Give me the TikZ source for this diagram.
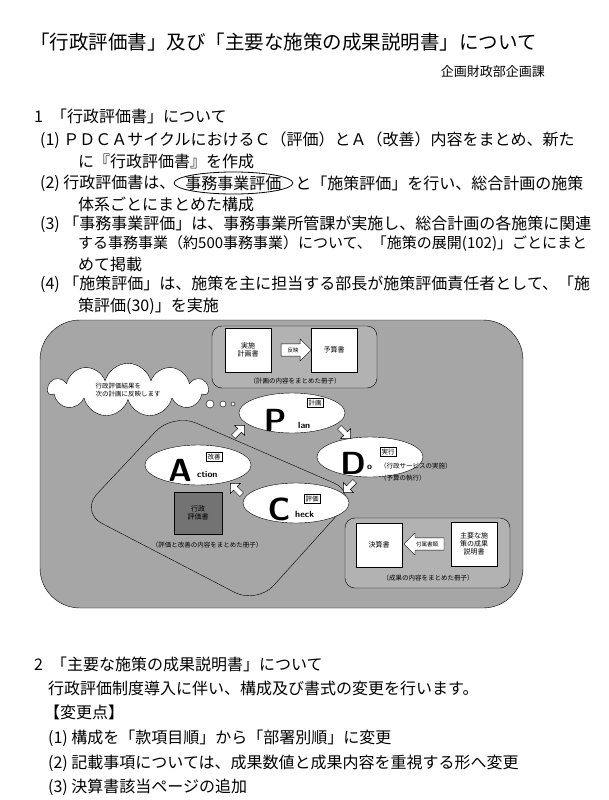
\documentclass[tikz,border=0pt]{standalone}
\usepackage{fontspec}
\setmainfont{Noto Sans CJK JP}
\usetikzlibrary{positioning, shapes.geometric, shapes.arrows, shapes.symbols}
\begin{document}
\begin{tikzpicture}[
        x=1pt, y=-1pt,
        line/.style={anchor=west, inner sep=0pt, font=\fontsize{16}{16}\selectfont},
        book/.style={draw, fill=white, minimum width=46pt, minimum height=44pt, align=center, font=\fontsize{7}{8}\selectfont},
        group/.style={draw, rounded corners=10pt, fill=black!30},
        pdca/.style={ellipse, draw, fill=white, minimum width=106pt, minimum height=40pt},
        tag/.style={draw, fill=white, inner sep=1.5pt, font=\fontsize{6.5}{7}\selectfont},
        note/.style={font=\fontsize{6.5}{7}\selectfont, inner sep=0pt},
        flow/.style={single arrow, draw, fill=white, minimum height=16pt, minimum width=14pt, single arrow head extend=2pt, inner sep=1pt},
        big/.style={font=\fontsize{32}{32}\selectfont\bfseries\sffamily, inner sep=0pt},
        small/.style={font=\fontsize{9}{9}\selectfont\bfseries\sffamily, inner sep=0pt, anchor=base west},
    ]
    \useasboundingbox (0,0) rectangle (609,800);
    \fill[white] (0,0) rectangle (609,800);

    % Title
    \node[anchor=west, inner sep=0pt, font=\fontsize{19.5}{19.5}\selectfont] (title) at (30,42) {「行政評価書」及び「主要な施策の成果説明書」について};
    \node[anchor=east, inner sep=0pt, font=\fontsize{13}{13}\selectfont] (dept) at (545,72) {企画財政部企画課};

    % Section 1
    \node[line] (s1) at (34,116) {1\hspace{8pt}「行政評価書」について};
    \node[line] (l1) at (40,140) {(1) ＰＤＣＡサイクルにおけるＣ（評価）とＡ（改善）内容をまとめ、新た};
    \node[line] (l1b) at (78,161) {に『行政評価書』を作成};
    \node[line] (l2a) at (40,183) {(2) 行政評価書は、};
    \node[ellipse, draw, thick, inner xsep=-6pt, inner ysep=0pt, minimum height=22pt, font=\fontsize{16}{16}\selectfont, right=-2pt of l2a] (circled) {事務事業評価};
    \node[line, right=2pt of circled] (l2c) {と「施策評価」を行い、総合計画の施策};
    \node[line] (l2b) at (78,204) {体系ごとにまとめた構成};
    \node[line] (l3) at (40,224) {(3) 「事務事業評価」は、事務事業所管課が実施し、総合計画の各施策に関連};
    \node[line, font=\fontsize{15}{15}\selectfont] (l3b) at (78,244) {する事務事業（約500事務事業）について、「施策の展開(102)」ごとにまと};
    \node[line] (l3c) at (78,264) {めて掲載};
    \node[line] (l4) at (40,284) {(4) 「施策評価」は、施策を主に担当する部長が施策評価責任者として、「施};
    \node[line] (l4b) at (78,306) {策評価(30)」を実施};

    % Diagram frame
    \draw[group, rounded corners=40pt, fill=black!35] (40,320) rectangle (523,608);
    \draw[rounded corners=25pt] (173,413) -- (357,493) -- (257,604) -- (80,512) -- cycle;

    % Plan documents
    \draw[group] (212,326) rectangle (377,388);
    \node[book] (plan-doc) at (248,350) {実施\\計画書};
    \node[book] (budget) at (334,350) {予算書};
    \node[single arrow, draw, fill=white, minimum height=30pt, minimum width=22pt, single arrow head extend=3pt, inner sep=1pt, font=\fontsize{5.5}{6}\selectfont] (reflect) at (293,350) {反映};
    \node[note] (plan-cap) at (295,381) {（計画の内容をまとめた冊子）};

    % Thought cloud
    \node[cloud, draw, fill=white, cloud puffs=11, aspect=4, minimum width=160pt, minimum height=36pt, align=left, font=\fontsize{6.5}{8}\selectfont] (cloud) at (128,390) {行政評価結果を\\次の計画に反映します};
    \foreach \x/\r in {210/4, 223/3, 233/2}
        \draw[fill=white] (\x,404) circle (\r pt);

    % PDCA ellipses
    \node[pdca] (plan) at (292,413) {};
    \node[pdca] (do) at (370,457) {};
    \node[pdca] (act) at (198,465) {};
    \node[pdca] (check) at (296,503) {};

    \node[big] (P) at (275,420) {P};
    \node[small] at (298,428) {lan};
    \node[tag] at (315,403) {計画};
    \node[big] (D) at (353,463) {D};
    \node[small] at (367,469) {o};
    \node[tag] at (388,452) {実行};
    \node[note, anchor=west] at (380,466) {（行政サービスの実施）};
    \node[note, anchor=west] at (380,478) {（予算の執行）};
    \node[big] (A) at (180,470) {A};
    \node[small] at (197,477) {ction};
    \node[tag] at (214,457) {改善};
    \node[big] (C) at (279,509) {C};
    \node[small] at (295,517) {heck};
    \node[tag] at (312,499) {評価};

    % Cycle arrows
    \node[flow, rotate=45] at (238,432) {};
    \node[flow, rotate=-45] at (344,432) {};
    \node[flow, rotate=-135] at (350,486) {};
    \node[flow, rotate=135] at (237,490) {};

    % Evaluation book
    \node[book, fill=black!55, minimum width=48pt, minimum height=42pt] (eval) at (198,513) {行政\\評価書};
    \node[note] (eval-cap) at (207,545) {（評価と改善の内容をまとめた冊子）};

    % Result documents
    \draw[group] (345,518) rectangle (510,588);
    \node[book] (settle) at (379,545) {決算書};
    \node[book] (result) at (474,544) {主要な施\\策の成果\\説明書};
    \node[single arrow, draw, fill=white, shape border rotate=180, minimum height=40pt, minimum width=22pt, single arrow head extend=3pt, inner sep=1pt, font=\fontsize{5.5}{6}\selectfont] (attach) at (427,544) {付属書類};
    \node[note] (result-cap) at (428,578) {（成果の内容をまとめた冊子）};

    % Section 2
    \node[line] (s2) at (34,664) {2\hspace{8pt}「主要な施策の成果説明書」について};
    \node[line] (m0) at (48,688) {行政評価制度導入に伴い、構成及び書式の変更を行います。};
    \node[line] (m1) at (44,712) {【変更点】};
    \node[line] (m2) at (48,738) {(1) 構成を「款項目順」から「部署別順」に変更};
    \node[line] (m3) at (48,763) {(2) 記載事項については、成果数値と成果内容を重視する形へ変更};
    \node[line] (m4) at (48,787) {(3) 決算書該当ページの追加};
\end{tikzpicture}
\end{document}
